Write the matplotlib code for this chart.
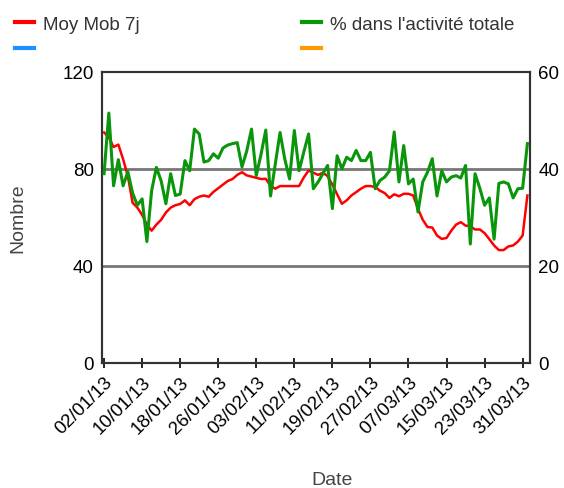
import numpy as np
import pandas as pd
import matplotlib
matplotlib.use('Agg')
import matplotlib.pyplot as plt
import matplotlib.dates as mdates
from matplotlib.lines import Line2D

plt.rcParams['font.family'] = ['Liberation Sans', 'DejaVu Sans']

# données
dates = pd.date_range('2013-01-02', periods=90, freq='D')

moy_mob = [95, 93, 89, 90, 84, 77, 66, 64, 61, 57,
           54.5, 57, 59, 62, 64, 65, 65.5, 67, 65, 67.5,
           68.5, 69, 68.5, 70.5, 72, 73.5, 75, 75.8, 77.5, 78.6,
           77.3, 76.8, 76.3, 75.8, 75.9, 73, 71.8, 72.9, 72.9, 72.9,
           72.9, 72.9, 76.5, 79.3, 78.4, 77.5, 78.4, 77, 73.5, 69.5,
           65.6, 67, 69, 70.4, 71.8, 72.9, 72.9, 72.5, 71, 70,
           68, 69.5, 68.7, 69.7, 69.7, 69, 63.5, 59, 56, 55.8,
           52.5, 51.1, 51.5, 54.5, 57, 58, 56.6, 56.3, 55, 55,
           53.5, 51, 48.4, 46.5, 46.5, 48, 48.4, 50, 52.5, 69]

pct_activite = [39, 51.5, 36.5, 41.9, 36.5, 39.4, 35, 32.5, 33.8, 25,
                35.5, 40.3, 37.5, 32.8, 39, 34.5, 34.8, 41.7, 39.6, 48.2,
                47.2, 41.4, 41.7, 43.1, 42.2, 44.3, 44.9, 45.2, 45.4, 40.4,
                43.7, 48.2, 38.6, 43, 48, 34.4, 41, 47.5, 42, 37.9,
                47.9, 39.6, 43.5, 47.2, 35.9, 37.3, 39, 40.7, 31.8, 42.7,
                40, 42.4, 41.7, 43.8, 41.7, 41.7, 43.4, 35.9, 37.6, 38.3,
                39.6, 47.6, 37.3, 44.8, 36.9, 37.9, 31.1, 37.3, 39.3, 42.1,
                34.4, 39.6, 37.3, 38.3, 38.6, 38.1, 40.7, 24.5, 39, 36,
                32.5, 34, 25.5, 37, 37.3, 36.9, 34, 35.9, 36, 45.2]

left_ticks = [0, 40, 80, 120]
right_ticks = [0, 20, 40, 60]

fig = plt.figure(figsize=(5.64, 4.89), dpi=100)
ax = fig.add_axes([0.181, 0.256, 0.759, 0.595])
ax2 = ax.twinx()

# grille horizontale
for v in [40, 80]:
    ax.axhline(v, color='#777777', lw=2, zorder=0)

ax.plot(dates, moy_mob, color='#ff0000', lw=1.8, zorder=3)
ax2.plot(dates, pct_activite, color='#0a960a', lw=2.2, zorder=3)

ax.set_ylim(0, 120)
ax2.set_ylim(0, 60)
ax.set_yticks(left_ticks)
ax2.set_yticks(right_ticks)
ax.set_xlim(dates[0] - pd.Timedelta(hours=10), dates[-1] + pd.Timedelta(hours=14))

ax.set_xticks(dates[::8])
ax.xaxis.set_major_formatter(mdates.DateFormatter('%d/%m/%y'))
for lab in ax.get_xticklabels():
    lab.set_rotation(45)
    lab.set_ha('right')
    lab.set_va('top')
    lab.set_rotation_mode('anchor')

ax.tick_params(axis='x', direction='inout', length=7, width=1.2, labelsize=13.5, pad=4)
ax.tick_params(axis='y', length=0, labelsize=13.5, pad=6)
ax2.tick_params(axis='y', length=0, labelsize=13.5, pad=6)

for a in (ax, ax2):
    for s in a.spines.values():
        s.set_color('#333333')
        s.set_linewidth(1.5)

ax.set_ylabel('Nombre', fontsize=14, color='#444444')
ax.yaxis.set_label_coords(-0.178, 0.5)
ax.set_xlabel('Date', fontsize=14, color='#444444')
ax.xaxis.set_label_coords(0.537, -0.372)

handles = [Line2D([], [], color='#ff0000', lw=3),
           Line2D([], [], color='#1e90ff', lw=3),
           Line2D([], [], color='#0a960a', lw=3),
           Line2D([], [], color='#ff9900', lw=3)]
labels = ['Moy Mob 7j', ' ', "% dans l'activité totale", ' ']
fig.legend(handles, labels, loc='upper left', bbox_to_anchor=(0.004, 0.993),
           ncol=2, frameon=False, fontsize=13.5, handlelength=1.0,
           handletextpad=0.45, columnspacing=8.7, labelspacing=0.45,
           borderpad=0.2, labelcolor='#333333')

fig.savefig('out.png', dpi=100)
